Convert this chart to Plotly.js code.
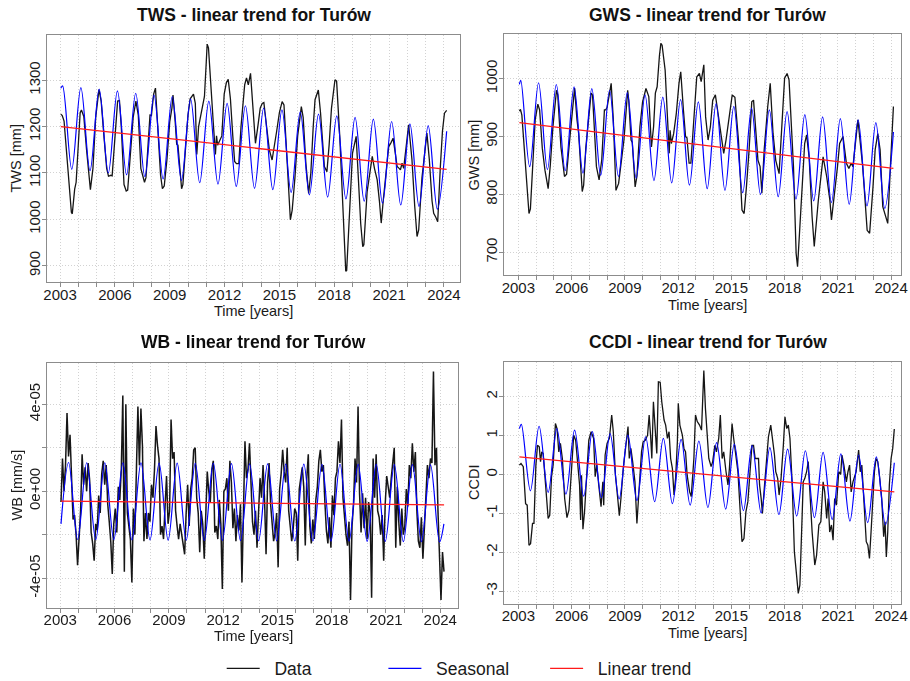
<!DOCTYPE html>
<html>
<head>
<meta charset="utf-8">
<script src="https://cdn.plot.ly/plotly-3.0.1.min.js"></script>
<style>
  html, body { margin: 0; padding: 0; background: #ffffff; overflow: hidden; }
  #chart { width: 910px; height: 681px; }
</style>
</head>
<body>
<div id="chart"></div>
<script>
// ---------------------------------------------------------------------------
// Data: Turów storage components, 2003 - 2024
// ---------------------------------------------------------------------------

// calendar years shown on every time axis (labels every third year)
const axisYears = [2003, 2004, 2005, 2006, 2007, 2008, 2009, 2010, 2011, 2012, 2013,
                   2014, 2015, 2016, 2017, 2018, 2019, 2020, 2021, 2022, 2023, 2024];
const labelledYears = [2003, 2006, 2009, 2012, 2015, 2018, 2021, 2024];
// years for which the seasonal curve has one maximum and one minimum
const seasonYears = axisYears.slice(0, 21);

// ---- TWS [mm] --------------------------------------------------------------
const twsData = [
  [2003.04,1227],[2003.12,1224],[2003.22,1212],[2003.35,1150],[2003.5,1060],[2003.62,1015],
  [2003.67,1012],[2003.8,1065],[2003.88,1080],[2004.0,1180],[2004.1,1230],[2004.17,1236],
  [2004.3,1222],[2004.45,1150],[2004.6,1075],[2004.66,1064],[2004.8,1110],[2004.95,1220],
  [2005.13,1280],[2005.25,1255],[2005.4,1180],[2005.55,1110],[2005.65,1093],[2005.78,1095],
  [2005.85,1094],[2006.0,1180],[2006.15,1255],[2006.25,1256],[2006.35,1200],[2006.5,1075],
  [2006.62,1061],[2006.7,1063],[2006.85,1140],[2007.0,1220],[2007.15,1255],[2007.28,1225],
  [2007.42,1110],[2007.5,1100],[2007.62,1080],[2007.7,1090],[2007.82,1170],[2007.92,1225],
  [2008.0,1224],[2008.12,1270],[2008.22,1283],[2008.35,1200],[2008.5,1095],[2008.6,1066],
  [2008.7,1072],[2008.85,1130],[2009.0,1210],[2009.12,1240],[2009.18,1268],[2009.3,1210],
  [2009.38,1162],[2009.45,1160],[2009.55,1110],[2009.65,1066],[2009.72,1075],[2009.85,1150],
  [2010.0,1225],[2010.12,1260],[2010.22,1265],[2010.3,1270],[2010.4,1250],[2010.48,1140],
  [2010.58,1200],[2010.68,1220],[2010.8,1250],[2010.9,1265],[2011.0,1340],[2011.05,1378],
  [2011.12,1370],[2011.25,1300],[2011.38,1210],[2011.5,1140],[2011.56,1180],[2011.62,1160],
  [2011.72,1170],[2011.85,1180],[2011.98,1270],[2012.1,1295],[2012.2,1302],[2012.32,1260],
  [2012.45,1180],[2012.55,1125],[2012.65,1120],[2012.78,1120],[2012.9,1200],[2013.0,1255],
  [2013.1,1290],[2013.2,1305],[2013.3,1290],[2013.42,1315],[2013.55,1230],[2013.69,1164],
  [2013.82,1200],[2013.95,1240],[2014.06,1250],[2014.15,1252],[2014.3,1200],[2014.45,1150],
  [2014.6,1128],[2014.7,1150],[2014.85,1190],[2015.0,1230],[2015.15,1254],[2015.25,1247],
  [2015.4,1150],[2015.6,999],[2015.7,1020],[2015.85,1090],[2016.0,1180],[2016.2,1243],
  [2016.3,1220],[2016.45,1120],[2016.6,1056],[2016.72,1100],[2016.85,1200],[2016.95,1258],
  [2017.13,1279],[2017.25,1230],[2017.46,1114],[2017.6,1103],[2017.72,1160],[2017.85,1240],
  [2018.04,1301],[2018.13,1298],[2018.3,1180],[2018.5,985],[2018.63,888],[2018.68,890],
  [2018.8,990],[2019.0,1143],[2019.2,1179],[2019.3,1100],[2019.45,990],[2019.56,941],
  [2019.62,945],[2019.8,1060],[2020.08,1136],[2020.2,1110],[2020.35,1085],[2020.47,1040],
  [2020.57,992],[2020.68,1040],[2020.8,1082],[2020.98,1157],[2021.1,1165],[2021.22,1175],
  [2021.35,1140],[2021.44,1114],[2021.55,1110],[2021.62,1107],[2021.71,1121],[2021.8,1110],
  [2022.07,1204],[2022.25,1130],[2022.4,1030],[2022.53,963],[2022.62,977],[2022.8,1090],
  [2023.07,1186],[2023.2,1130],[2023.35,1040],[2023.44,1013],[2023.55,1005],[2023.66,995],
  [2023.8,1110],[2023.92,1190],[2024.03,1229],[2024.15,1235]
];
const twsSeasonPeaks   = [1288,1284,1281,1277,1272,1268,1265,1260,1255,1250,1245,
                          1240,1236,1232,1227,1223,1220,1216,1211,1206,1202];
const twsSeasonTroughs = [1108,1105,1100,1096,1092,1087,1084,1079,1076,1071,1067,
                          1064,1058,1053,1048,1044,1039,1035,1031,1028,1022];
const twsSeasonEnds = [[2003.04, 1283], [2024.15, 1190]];
const twsTrend = [[2003.04, 1200], [2024.15, 1108]];

// ---- GWS [mm] --------------------------------------------------------------
const gwsData = [
  [2003.06,944],[2003.12,947],[2003.2,937],[2003.4,850],[2003.6,767],[2003.68,775],
  [2003.8,836],[2003.95,929],[2004.1,956],[2004.2,946],[2004.35,880],[2004.5,842],
  [2004.68,810],[2004.8,850],[2004.95,917],[2005.15,980],[2005.22,972],[2005.4,882],
  [2005.6,831],[2005.72,835],[2005.85,880],[2006.0,929],[2006.17,984],[2006.3,930],
  [2006.4,905],[2006.6,805],[2006.68,816],[2006.8,880],[2006.97,940],[2007.1,975],
  [2007.18,972],[2007.4,848],[2007.55,825],[2007.7,860],[2007.85,946],[2007.92,946],
  [2008.0,950],[2008.23,992],[2008.35,930],[2008.5,807],[2008.65,819],[2008.8,860],
  [2008.95,894],[2009.16,980],[2009.22,963],[2009.35,894],[2009.42,890],[2009.58,813],
  [2009.68,831],[2009.85,917],[2010.0,960],[2010.19,983],[2010.35,969],[2010.5,882],
  [2010.62,917],[2010.72,975],[2010.82,986],[2010.95,1040],[2011.03,1061],[2011.1,1058],
  [2011.27,1015],[2011.4,934],[2011.5,871],[2011.55,911],[2011.62,888],[2011.75,905],
  [2011.9,940],[2012.05,992],[2012.15,1012],[2012.3,946],[2012.42,900],[2012.5,898],
  [2012.62,854],[2012.72,854],[2012.88,934],[2013.05,1003],[2013.2,1009],[2013.3,995],
  [2013.45,1024],[2013.55,934],[2013.69,894],[2013.82,917],[2013.95,963],[2014.1,972],
  [2014.25,940],[2014.4,905],[2014.57,871],[2014.7,894],[2014.85,929],[2015.05,972],
  [2015.2,968],[2015.4,894],[2015.6,773],[2015.72,767],[2015.85,813],[2016.0,877],
  [2016.15,960],[2016.25,963],[2016.5,859],[2016.62,848],[2016.72,802],[2016.85,877],
  [2017.05,952],[2017.19,992],[2017.35,905],[2017.5,859],[2017.69,836],[2017.82,905],
  [2018.0,1001],[2018.14,1009],[2018.25,998],[2018.5,848],[2018.65,698],[2018.73,675],
  [2018.95,790],[2019.13,888],[2019.24,903],[2019.38,865],[2019.55,761],[2019.67,710],
  [2019.9,790],[2020.1,848],[2020.17,865],[2020.37,831],[2020.55,790],[2020.64,756],
  [2020.82,802],[2020.98,848],[2021.1,888],[2021.29,900],[2021.48,854],[2021.62,845],
  [2021.75,854],[2021.85,848],[2022.13,929],[2022.4,848],[2022.65,738],[2022.79,733],
  [2022.98,813],[2023.1,877],[2023.25,905],[2023.38,877],[2023.53,779],[2023.66,767],
  [2023.81,750],[2023.96,848],[2024.13,952]
];
const gwsSeasonPeaks   = [997,993,990,986,983,980,976,972,968,964,960,
                          957,952,949,946,943,938,934,931,929,924];
const gwsSeasonTroughs = [848,843,841,837,833,831,828,824,820,816,810,
                          807,803,800,796,792,789,786,783,780,776];
const gwsSeasonEnds = [[2003.06, 990], [2024.13, 908]];
const gwsTrend = [[2003.06, 924], [2024.13, 845]];

// ---- WB, monthly, in units of 1e-5 mm/s (Jan ... Dec) ----------------------
const WB_UNIT = 1e-5;
const wbMonthly = [
  [-0.5, 1.5, 0.0, 1.2, 3.6, 1.6, 2.6, 0.8, -1.3, -1.1, -2.0, -3.4],   // 2003
  [-2.2, -0.9, 1.7, 0.3, 1.1, 0.0, 1.3, 0.5, -1.9, -2.4, -3.2, -1.5],  // 2004
  [-1.8, -0.2, -1.0, 0.8, 1.4, 0.3, 1.2, -0.6, -1.4, -2.3, -3.8, -1.5], // 2005
  [-0.8, -1.9, 0.2, -0.4, 1.0, 4.4, -3.7, 4.0, -1.0, -1.6, -2.2, -4.2], // 2006
  [-0.8, -2.0, 0.4, 3.9, 1.2, 3.8, 2.1, -2.3, -1.0, -2.2, -1.0, -1.4],  // 2007
  [0.3, -0.3, 1.0, 3.0, 2.1, 1.5, -2.0, -1.6, -2.2, -0.8, 0.7, -1.5],   // 2008
  [-0.9, 3.3, 1.5, 1.8, -0.9, -1.6, -2.2, -1.5, -2.0, -2.4, -2.9, -1.0], // 2009
  [0.3, -1.6, 0.1, 0.6, 1.9, 2.0, -0.3, -1.0, -2.8, -0.9, -1.5, -3.1],  // 2010
  [-0.6, 0.9, 0.0, -0.5, 1.0, 1.4, -1.9, -1.6, -2.2, -0.4, -1.5, -4.5], // 2011
  [0.0, 0.1, 0.6, -0.9, 1.4, 0.4, -1.7, -0.8, -2.3, -1.1, -1.8, -0.6],  // 2012
  [-4.2, -0.5, 2.3, 0.6, 1.0, 2.2, 0.2, -1.4, -2.0, -0.9, -2.6, -1.2],  // 2013
  [0.6, -0.3, 1.2, -0.4, -2.9, 0.4, 1.3, -0.6, -1.6, -2.3, -1.9, -1.0], // 2014
  [-3.5, 0.1, 0.8, 1.9, 0.9, 0.4, 2.0, -0.9, -1.6, -2.3, -1.7, -0.8],   // 2015
  [-1.0, -3.2, 0.1, 0.5, 1.1, 0.2, -2.5, 0.6, 1.7, -1.6, -2.4, -1.3],   // 2016
  [-2.2, -0.4, 0.2, 1.4, 1.9, 0.9, 1.2, -0.5, -1.8, -2.4, -1.2, -2.6],  // 2017
  [-0.2, -1.1, 0.6, 0.9, 2.3, 1.3, 3.3, -0.3, -1.2, -2.0, -2.5, -1.4],  // 2018
  [-5.0, -1.6, -0.6, 1.5, 0.4, 3.9, -0.1, -1.9, -0.1, -1.7, -0.3, -2.2], // 2019
  [-0.5, -1.0, -4.9, 1.5, -0.3, 1.7, -0.9, -1.2, -2.0, -1.1, -3.2, -0.6], // 2020
  [0.7, 0.1, -0.3, 0.6, 1.2, 2.0, -2.6, 0.2, -1.4, -2.5, -0.8, -2.0],   // 2021
  [-1.6, 0.1, -0.7, 1.2, 0.6, 2.2, 0.9, 1.8, -0.9, -2.3, -2.6, -1.2],   // 2022
  [-3.1, -1.4, 0.2, 1.2, 0.6, 1.5, 1.3, 5.5, 1.2, 2.0, -0.9, -2.8],     // 2023
  [-5.0, -2.8, -3.7]                                                    // 2024
];
const wbFirstMonth = 2003.04;
const wbSeasonPeaks   = [1.32,1.31,1.31,1.30,1.30,1.29,1.29,1.28,1.28,1.27,1.26,
                         1.26,1.25,1.25,1.24,1.24,1.23,1.23,1.22,1.22,1.21];
const wbSeasonTroughs = [-2.22,-2.23,-2.23,-2.24,-2.24,-2.25,-2.25,-2.26,-2.26,-2.27,-2.28,
                         -2.28,-2.29,-2.29,-2.30,-2.30,-2.31,-2.31,-2.32,-2.32,-2.33];
const wbSeasonEnds = [[2003.04, -1.5], [2024.2, -1.5]];
const wbTrend = [[2003.04, -0.46], [2024.21, -0.63]];

// ---- CCDI [-] --------------------------------------------------------------
const ccdiData = [
  [2003.06,0.24],[2003.15,0.28],[2003.28,0.2],[2003.41,-0.75],[2003.5,-0.79],[2003.6,-1.82],
  [2003.69,-1.78],[2003.8,-1.26],[2003.88,-1.26],[2003.99,0.24],[2004.08,0.75],[2004.18,0.71],
  [2004.25,0.33],[2004.32,0.58],[2004.4,0.54],[2004.49,-0.02],[2004.68,-1.13],[2004.77,-1.05],
  [2004.87,-0.06],[2004.96,0.24],[2005.09,1.31],[2005.18,1.18],[2005.28,0.58],[2005.37,0.8],
  [2005.48,0.41],[2005.61,-0.62],[2005.74,-1.11],[2005.85,-0.92],[2005.99,0.24],[2006.12,1.01],
  [2006.23,0.88],[2006.36,0.15],[2006.45,-0.27],[2006.51,-1.17],[2006.56,-0.02],[2006.64,-1.41],
  [2006.73,-0.96],[2006.82,-0.27],[2006.97,0.88],[2007.1,1.1],[2007.24,0.93],[2007.33,-0.06],
  [2007.42,0.24],[2007.53,-0.27],[2007.61,-0.53],[2007.66,-0.83],[2007.76,-0.19],[2007.81,-0.79],
  [2007.89,0.5],[2008.0,0.8],[2008.13,0.93],[2008.26,1.53],[2008.35,1.1],[2008.47,-0.02],
  [2008.6,-0.62],[2008.69,-1.06],[2008.78,-0.62],[2008.91,0.15],[2009.06,0.75],[2009.18,1.23],
  [2009.25,0.41],[2009.34,0.67],[2009.44,0.33],[2009.57,-0.19],[2009.68,-1.26],[2009.81,-0.36],
  [2009.94,0.58],[2010.03,0.84],[2010.15,0.88],[2010.28,1.01],[2010.37,1.53],[2010.46,0.93],
  [2010.52,0.41],[2010.61,1.87],[2010.71,1.1],[2010.8,0.54],[2010.89,2.38],[2010.99,2.37],
  [2011.08,1.87],[2011.21,1.4],[2011.3,1.27],[2011.4,0.93],[2011.49,1.1],[2011.58,0.41],
  [2011.68,0.15],[2011.77,-0.53],[2011.86,-0.1],[2011.96,0.84],[2012.01,1.83],[2012.1,1.27],
  [2012.24,1.01],[2012.33,0.67],[2012.42,0.58],[2012.51,-0.02],[2012.65,-0.45],[2012.74,-0.57],
  [2012.89,0.41],[2012.98,1.53],[2013.08,1.36],[2013.21,1.27],[2013.32,1.14],[2013.45,2.67],
  [2013.54,1.7],[2013.64,0.84],[2013.73,0.41],[2013.86,0.2],[2013.95,0.33],[2014.07,0.75],
  [2014.16,0.58],[2014.29,0.93],[2014.38,1.53],[2014.48,0.41],[2014.57,0.58],[2014.7,0.07],
  [2014.81,-0.27],[2014.89,0.15],[2015.04,1.31],[2015.13,0.93],[2015.22,0.58],[2015.37,0.07],
  [2015.5,-0.96],[2015.6,-1.73],[2015.71,-1.65],[2015.82,-0.96],[2015.93,-0.7],[2016.03,0.0],
  [2016.16,0.75],[2016.25,0.75],[2016.34,0.41],[2016.53,0.41],[2016.59,-0.27],[2016.68,-0.62],
  [2016.75,-1.0],[2016.87,-0.27],[2016.99,0.41],[2017.09,0.97],[2017.22,1.27],[2017.31,0.97],
  [2017.43,0.5],[2017.5,0.07],[2017.61,-0.1],[2017.69,-0.53],[2017.8,-0.1],[2017.93,0.75],
  [2018.02,1.48],[2018.12,1.18],[2018.21,1.27],[2018.3,0.93],[2018.43,-0.27],[2018.55,-1.99],
  [2018.68,-2.76],[2018.77,-3.06],[2018.86,-2.85],[2018.96,-1.65],[2019.05,-0.19],[2019.14,-0.1],
  [2019.24,0.07],[2019.33,0.33],[2019.42,-0.45],[2019.55,-1.48],[2019.7,-2.33],[2019.8,-2.08],
  [2019.93,-1.3],[2020.04,-1.22],[2020.17,-0.19],[2020.26,-0.45],[2020.37,-1.13],[2020.45,-0.62],
  [2020.54,-1.48],[2020.64,-1.3],[2020.73,-1.69],[2020.82,-0.62],[2020.92,-0.79],[2021.05,0.07],
  [2021.16,0.0],[2021.23,0.5],[2021.34,0.24],[2021.48,-0.19],[2021.57,0.07],[2021.66,0.24],
  [2021.75,-0.45],[2021.85,-0.19],[2022.03,0.07],[2022.17,0.63],[2022.26,0.07],[2022.35,0.24],
  [2022.46,-0.62],[2022.6,-1.73],[2022.69,-1.82],[2022.78,-2.16],[2022.87,-1.48],[2022.97,-0.62],
  [2023.06,0.07],[2023.15,0.41],[2023.25,0.33],[2023.34,-0.02],[2023.47,-0.62],[2023.58,-1.6],
  [2023.66,-1.22],[2023.73,-2.12],[2023.81,-1.48],[2023.9,-0.27],[2024.0,0.41],[2024.09,0.67],
  [2024.18,1.17]
];
const ccdiSeasonPeaks   = [1.29,1.24,1.18,1.14,1.10,1.05,1.01,0.97,0.93,0.90,0.86,
                           0.82,0.78,0.74,0.69,0.65,0.61,0.57,0.53,0.50,0.45];
const ccdiSeasonTroughs = [-0.42,-0.46,-0.51,-0.56,-0.60,-0.63,-0.67,-0.70,-0.75,-0.79,-0.85,
                           -0.89,-0.93,-0.99,-1.03,-1.07,-1.11,-1.16,-1.20,-1.24,-1.29];
const ccdiSeasonEnds = [[2003.06, 1.18], [2024.18, 0.30]];
const ccdiTrend = [[2003.06, 0.45], [2024.18, -0.45]];

// month of the seasonal maximum / minimum, as a fraction of the year
const seasonPhase = {
  tws:  { peak: 0.14, trough: 0.64 },
  gws:  { peak: 0.14, trough: 0.64 },
  wb:   { peak: 0.46, trough: 0.96 },
  ccdi: { peak: 0.17, trough: 0.68 }
};

// ---------------------------------------------------------------------------
// Building blocks
// ---------------------------------------------------------------------------
const FONT = 'Liberation Sans, Arial, Helvetica, sans-serif';
const W = 910, H = 681;
const px = v => v / W;          // figure pixel -> paper x
const py = v => 1 - v / H;      // figure pixel -> paper y

const COL_DATA = '#151515', COL_SEAS = '#0000ff', COL_TREND = '#ff1a1a';
const NB = '\u00a0\u00a0';      // spacing between legend key and its label

function seasonalCurve(ends, phase, peaks, troughs, scale) {
  const k = scale || 1;
  const t = [ends[0][0]], v = [ends[0][1] * k];
  seasonYears.forEach((yr, i) => {
    t.push(yr + phase.peak);   v.push(peaks[i] * k);
    t.push(yr + phase.trough); v.push(troughs[i] * k);
  });
  t.push(ends[1][0]); v.push(ends[1][1] * k);
  return { t, v };
}

function panelTraces(ax, data, seas, trend, first, dataWidth) {
  const sx = ax === 1 ? 'x' : 'x' + ax, sy = ax === 1 ? 'y' : 'y' + ax;
  return [
    { type: 'scatter', mode: 'lines', name: NB + 'Data', legendgroup: 'd', showlegend: first,
      x: data.x, y: data.y, xaxis: sx, yaxis: sy,
      line: { color: COL_DATA, width: dataWidth || 1.3 }, hoverinfo: 'skip' },
    { type: 'scatter', mode: 'lines', name: NB + 'Seasonal', legendgroup: 's', showlegend: first,
      x: seas.t, y: seas.v, xaxis: sx, yaxis: sy,
      line: { color: COL_SEAS, width: 1.2, shape: 'spline', smoothing: 1 }, hoverinfo: 'skip' },
    { type: 'scatter', mode: 'lines', name: NB + 'Linear trend', legendgroup: 't', showlegend: first,
      x: trend.map(p => p[0]), y: trend.map(p => p[1]), xaxis: sx, yaxis: sy,
      line: { color: COL_TREND, width: 1.3 }, hoverinfo: 'skip' }
  ];
}

const pairs = arr => ({ x: arr.map(p => p[0]), y: arr.map(p => p[1]) });

const wbFlat = [].concat(...wbMonthly);
const wbSeries = {
  x: wbFlat.map((_, i) => wbFirstMonth + i / 12),
  y: wbFlat.map(v => v * WB_UNIT)
};

const traces = [].concat(
  panelTraces(1, pairs(twsData),
    seasonalCurve(twsSeasonEnds, seasonPhase.tws, twsSeasonPeaks, twsSeasonTroughs), twsTrend, true),
  panelTraces(2, pairs(gwsData),
    seasonalCurve(gwsSeasonEnds, seasonPhase.gws, gwsSeasonPeaks, gwsSeasonTroughs), gwsTrend, false),
  panelTraces(3, wbSeries,
    seasonalCurve(wbSeasonEnds, seasonPhase.wb, wbSeasonPeaks, wbSeasonTroughs, WB_UNIT),
    wbTrend.map(p => [p[0], p[1] * WB_UNIT]), false, 1.5),
  panelTraces(4, pairs(ccdiData),
    seasonalCurve(ccdiSeasonEnds, seasonPhase.ccdi, ccdiSeasonPeaks, ccdiSeasonTroughs), ccdiTrend, false)
);

// ---------------------------------------------------------------------------
// Axes
// ---------------------------------------------------------------------------
const tickFont = { family: FONT, size: 15, color: '#1a1a1a' };
const frame = {
  showline: true, mirror: true, linecolor: '#8c8c8c', linewidth: 1,
  ticks: 'outside', ticklen: 4, tickcolor: '#8c8c8c', tickwidth: 1,
  showgrid: true, gridcolor: '#d2d2d2', griddash: '1px,2px', gridwidth: 1,
  zeroline: false, fixedrange: true, tickfont: tickFont
};

function timeAxis(x0, x1, range, anchor, standoff) {
  return Object.assign({}, frame, {
    domain: [px(x0), px(x1)], range, anchor,
    tickmode: 'array', tickvals: axisYears, ticklabelstandoff: standoff,
    ticktext: axisYears.map(y => labelledYears.includes(y) ? String(y) : '')
  });
}
function valueAxis(y0, y1, range, anchor, vals, text) {
  return Object.assign({}, frame, {
    domain: [py(y1), py(y0)], range, anchor,
    tickmode: 'array', tickvals: vals, ticktext: text || vals.map(String),
    tickangle: -90, ticklabelstandoff: -4
  });
}

const twsTicks = [900, 1000, 1100, 1200, 1300];
const gwsTicks = [700, 800, 900, 1000];
const wbTicks = [-4e-5, -2e-5, 0, 2e-5, 4e-5];
const wbTickText = ['-4e-05', '', '0e+00', '', '4e-05'];
const ccdiTicks = [-3, -2, -1, 0, 1, 2];

// ---------------------------------------------------------------------------
// Text
// ---------------------------------------------------------------------------
function label(text, x, y, opts) {
  return Object.assign({
    text, x: px(x), y: py(y), xref: 'paper', yref: 'paper',
    xanchor: 'center', yanchor: 'middle', showarrow: false, borderpad: 0,
    font: { family: FONT, size: 14.5, color: '#1a1a1a' }
  }, opts || {});
}
const titleFont = { family: FONT, size: 17.5, color: '#111111' };

const annotations = [
  label('<b>TWS - linear trend for Turów</b>', 253.5, 15, { font: titleFont }),
  label('<b>GWS - linear trend for Turów</b>', 707.5, 15, { font: titleFont }),
  label('<b>WB - linear trend for Turów</b>', 253, 342, { font: titleFont }),
  label('<b>CCDI - linear trend for Turów</b>', 708, 342, { font: titleFont }),
  label('Time [years]', 253, 311),
  label('Time [years]', 707.5, 304.5),
  label('Time [years]', 253, 636),
  label('Time [years]', 707, 632.5),
  label('TWS [mm]', 15, 158.5, { textangle: -90 }),
  label('GWS [mm]', 473.5, 155, { textangle: -90 }),
  label('WB [mm/s]', 16.5, 485, { textangle: -90 }),
  label('CCDI', 474, 483, { textangle: -90 })
];
// annotations that belong to the lower-left (WB) panel
const wbAnnotationIndex = [2, 6, 10];
// the legend row sits this far below the lowest position that fits inside the paper
const LEGEND_DROP = 5.4;

const layout = {
  width: W, height: H,
  margin: { l: 0, r: 0, t: 0, b: 0 },
  paper_bgcolor: '#ffffff', plot_bgcolor: '#ffffff',
  font: { family: FONT, color: '#1a1a1a' },
  xaxis:  timeAxis(46.7, 460, [2002.27, 2024.88], 'y', -5),
  yaxis:  valueAxis(35, 282, [864.9, 1397.6], 'x', twsTicks),
  xaxis2: timeAxis(504.3, 900.7, [2002.21, 2024.54], 'y2', -5),
  yaxis2: valueAxis(34.3, 275, [660.8, 1076.7], 'x2', gwsTicks),
  xaxis3: timeAxis(46.7, 458, [2002.25, 2024.98], 'y3', -6),
  yaxis3: valueAxis(362.7, 608, [-5.37e-5, 5.91e-5], 'x3', wbTicks, wbTickText),
  xaxis4: timeAxis(504.3, 900.7, [2002.21, 2024.54], 'y4', -6),
  yaxis4: valueAxis(361.7, 604.3, [-3.34, 2.90], 'x4', ccdiTicks),
  showlegend: true,
  legend: {
    orientation: 'h', x: px(221.7), xanchor: 'left', y: 0, yanchor: 'bottom',
    font: { family: FONT, size: 17.5, color: '#1a1a1a' },
    itemwidth: 33, entrywidth: 113.7, entrywidthmode: 'pixels',
    bgcolor: 'rgba(0,0,0,0)', borderwidth: 0, traceorder: 'normal'
  },
  annotations
};

Plotly.newPlot('chart', traces, layout, { displayModeBar: false, staticPlot: true })
  .then(gd => {
    // lower the legend row to its place near the bottom edge
    const lg = gd.querySelector('g.legend');
    if (lg) {
      const m = /translate\(\s*([-\d.e]+)[ ,]+([-\d.e]+)\s*\)/.exec(lg.getAttribute('transform') || '');
      if (m) lg.setAttribute('transform', `translate(${m[1]},${parseFloat(m[2]) + LEGEND_DROP})`);
    }
    // the WB panel is drawn slightly softer than the other three
    const ns = 'http://www.w3.org/2000/svg';
    const svg = gd.querySelector('svg.main-svg');
    const defs = document.createElementNS(ns, 'defs');
    const filter = document.createElementNS(ns, 'filter');
    filter.setAttribute('id', 'wb-soft');
    filter.setAttribute('x', '-5%'); filter.setAttribute('y', '-5%');
    filter.setAttribute('width', '110%'); filter.setAttribute('height', '110%');
    const blur = document.createElementNS(ns, 'feGaussianBlur');
    blur.setAttribute('stdDeviation', '0.45');
    filter.appendChild(blur);
    defs.appendChild(filter);
    svg.insertBefore(defs, svg.firstChild);
    gd.querySelectorAll('.subplot.x3y3').forEach(g => g.setAttribute('filter', 'url(#wb-soft)'));
    gd.querySelectorAll('.annotation').forEach(g => {
      if (wbAnnotationIndex.includes(Number(g.getAttribute('data-index')))) {
        g.setAttribute('filter', 'url(#wb-soft)');
      }
    });
  });
</script>
</body>
</html>
